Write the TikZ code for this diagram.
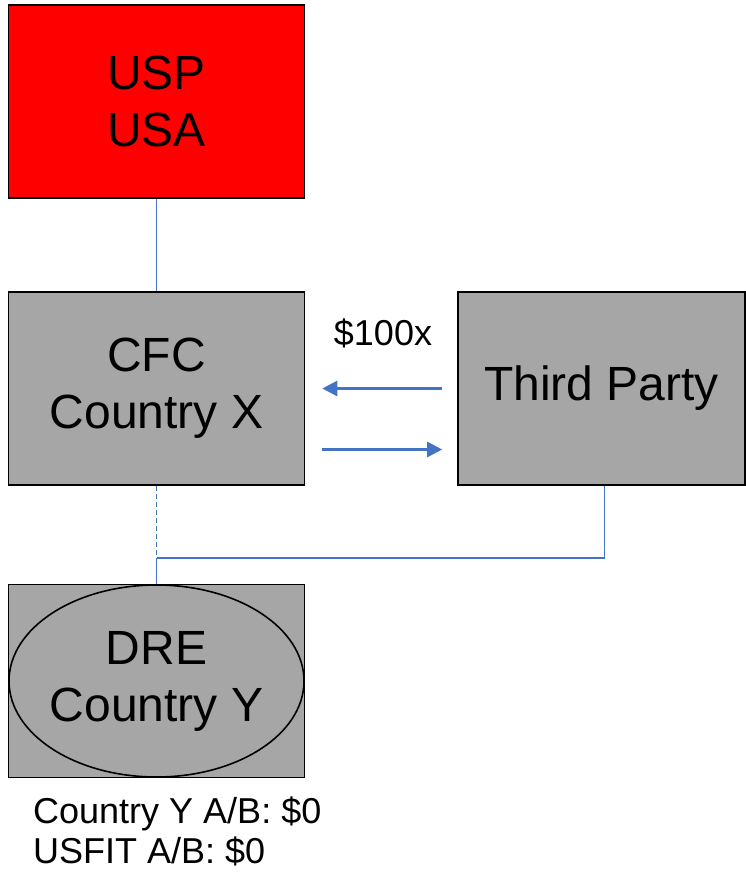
\documentclass[tikz,border=0pt]{standalone}
\usepackage{fontspec}
\setmainfont{Liberation Sans}
\usetikzlibrary{arrows.meta, positioning}
\definecolor{linkblue}{RGB}{68,114,196}
\definecolor{boxgray}{RGB}{166,166,166}
\definecolor{uspred}{RGB}{255,0,0}

\begin{document}
\begin{tikzpicture}[
    x=1pt, y=-1pt,
    box/.style={draw, line width=1.6pt, fill=boxgray, minimum width=296pt, minimum height=193pt,
      inner sep=0pt, align=center, font=\fontsize{48}{57}\selectfont},
    link/.style={draw=linkblue, line width=1.2pt},
    arr/.style={-{Triangle[length=15pt, width=15pt]}, draw=linkblue, fill=linkblue, line width=2.6pt},
    note/.style={font=\fontsize{36}{40}\selectfont, align=left, inner sep=0pt}
  ]
  \useasboundingbox (0,0) rectangle (745,874);
  \node[box, fill=uspred] (usp) at (156.5,101.5) {USP\\USA};
  \node[box] (cfc) at (156.5,388.5) {CFC\\Country X};
  \node[box, minimum width=287pt] (tp) at (601.5,388.5) {Third Party};
  \node[box] (dre) at (156.5,681) {DRE\\Country Y};
  \draw[line width=1.6pt] (dre.center) ellipse (147.5 and 96);
  \coordinate (junc) at (156.5,558);
  % ownership links
  \draw[link] (usp.south) -- (cfc.north);
  \draw[link, dashed, dash pattern=on 5pt off 3pt] (cfc.south) -- (junc);
  \draw[link] (junc) -- (dre.north);
  \draw[link] ([xshift=3pt]tp.south) |- (junc);
  % payments
  \draw[arr] ([xshift=-15pt]tp.west) -- ([xshift=17pt]cfc.east);
  \draw[arr] ([xshift=17pt, yshift=-61pt]cfc.east) -- ([xshift=-15pt, yshift=-61pt]tp.west);
  \node[font=\fontsize{36}{40}\selectfont] (amt) at (383,333) {\$100x};
  \node[note, anchor=north west] (ab) at (33,797) {Country Y A/B: \$0\\USFIT A/B: \$0};
\end{tikzpicture}
\end{document}
